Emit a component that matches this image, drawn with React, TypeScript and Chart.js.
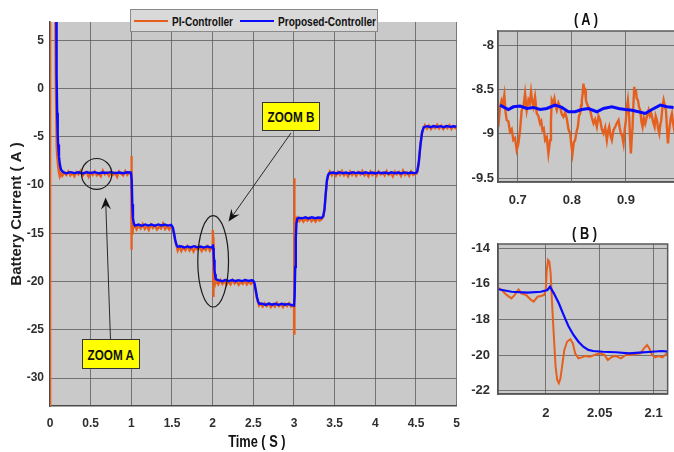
import React, { useEffect, useRef } from "react";
import { Chart, registerables } from "chart.js";
Chart.register(...registerables);

const SANS = "'Liberation Sans', Arial, sans-serif";
const ORANGE = "#e5601f";
const BLUE = "#0a0aff";
const PLOT_BG = "#c9c9c9";
const GRID = "rgba(85,85,85,0.75)";
const TICK_COLOR = "#2e2e2e";

// ---- tick labels ----
const mainTimeTicks = [0, 0.5, 1, 1.5, 2, 2.5, 3, 3.5, 4, 4.5, 5];
const mainCurrentTicks = [-30, -25, -20, -15, -10, -5, 0, 5];
const zoomATimeTicks = [0.7, 0.8, 0.9];
const zoomACurrentTicks = [-9.5, -9, -8.5, -8];
const zoomBTimeTicks = [2, 2.05, 2.1];
const zoomBCurrentTicks = [-22, -20, -18, -16, -14];

// ---- main chart series: [time (s), battery current (A)] ----
const mainPi: [number, number][] = [
  [0, -33], [0.002, 7.5], [0.066, 7.5], [0.07, 1.5], [0.075, -2], [0.08, -4.6], [0.085, -6.1], [0.09, -7.1], [0.1, -8.1], [0.11, -8.7], [0.12, -9.1], [0.135, -8.8],
  [0.15, -9.05], [0.175, -8.7], [0.2, -8.95], [0.225, -8.6], [0.25, -9.0], [0.275, -8.75], [0.3, -9.1], [0.325, -8.65], [0.35, -8.9], [0.375, -8.55], [0.4, -9.05], [0.425, -8.8], [0.45, -8.65], [0.475, -9.15], [0.5, -8.7], [0.525, -8.95], [0.55, -8.6], [0.575, -9.0], [0.6, -8.8], [0.625, -9.1], [0.65, -8.5], [0.675, -8.9], [0.7, -8.7], [0.725, -9.05], [0.75, -8.65], [0.775, -8.95], [0.8, -8.75], [0.825, -9.15], [0.85, -8.6], [0.875, -8.85], [0.9, -9.0], [0.925, -8.55], [0.95, -8.95], [0.975, -8.7], [0.998, -8.9],
  [1.0, -7.0], [1.002, -9.5], [1.004, -16.7], [1.007, -13.8], [1.011, -15.0], [1.016, -14.1], [1.02, -14.6],
  [1.04, -14.1], [1.065, -14.6], [1.09, -14.2], [1.115, -14.5], [1.14, -14.05], [1.165, -14.55], [1.19, -14.25], [1.215, -14.65], [1.24, -14.1], [1.265, -14.45], [1.29, -14.2], [1.315, -14.6], [1.34, -14.3], [1.365, -14.5], [1.39, -14.0], [1.415, -14.55], [1.44, -14.25], [1.465, -14.6], [1.49, -14.2],
  [1.51, -14.6], [1.525, -15.1], [1.54, -15.8], [1.555, -16.3], [1.57, -16.8],
  [1.59, -16.4], [1.615, -16.85], [1.64, -16.45], [1.665, -16.75], [1.69, -16.35], [1.715, -16.8], [1.74, -16.5], [1.765, -16.9], [1.79, -16.4], [1.815, -16.7], [1.84, -16.45], [1.865, -16.85], [1.89, -16.5], [1.915, -16.75], [1.94, -16.35], [1.965, -16.8], [1.985, -16.5],
  [1.998, -16.6], [2.0, -16.3], [2.0009, -15.2], [2.0021, -14.66], [2.0033, -14.75], [2.0045, -15.4], [2.006, -17.3], [2.0075, -19.0], [2.0091, -20.65], [2.0106, -21.4], [2.0121, -21.6], [2.0136, -21.3], [2.0151, -20.65], [2.0172, -19.7], [2.0197, -19.25], [2.0227, -19.1], [2.0251, -19.35], [2.0272, -19.9], [2.0303, -20.2],
  [2.045, -20.0], [2.07, -20.3], [2.095, -19.85], [2.12, -20.25], [2.145, -19.9], [2.17, -20.35], [2.195, -20.0], [2.22, -20.3], [2.245, -19.85], [2.27, -20.2], [2.295, -19.95], [2.32, -20.35], [2.345, -20.05], [2.37, -20.25], [2.395, -19.9], [2.42, -20.3], [2.445, -20.0], [2.47, -20.25], [2.49, -20.0],
  [2.51, -20.3], [2.525, -20.8], [2.54, -21.6], [2.555, -22.1], [2.57, -22.5],
  [2.59, -22.3], [2.615, -22.6], [2.64, -22.25], [2.665, -22.55], [2.69, -22.3], [2.715, -22.65], [2.74, -22.35], [2.765, -22.6], [2.79, -22.2], [2.815, -22.55], [2.84, -22.35], [2.865, -22.65], [2.89, -22.3], [2.915, -22.55], [2.94, -22.25], [2.965, -22.6], [2.99, -22.4],
  [3.0, -22.6], [3.001, -25.4], [3.003, -16], [3.004, -9.3], [3.006, -12.5], [3.009, -14.6], [3.014, -13.3], [3.02, -13.8],
  [3.04, -13.4], [3.065, -13.75], [3.09, -13.45], [3.115, -13.8], [3.14, -13.5], [3.165, -13.7], [3.19, -13.4], [3.215, -13.75], [3.24, -13.5], [3.265, -13.8], [3.29, -13.45], [3.315, -13.7], [3.34, -13.55],
  [3.36, -13.3], [3.375, -12.6], [3.39, -11.0], [3.405, -9.6], [3.42, -9.0],
  [3.44, -8.6], [3.465, -9.0], [3.49, -8.7], [3.515, -9.05], [3.54, -8.65], [3.565, -8.95], [3.59, -8.55], [3.615, -9.0], [3.64, -8.75], [3.665, -9.1], [3.69, -8.6], [3.715, -8.95], [3.74, -8.7], [3.765, -9.05], [3.79, -8.65], [3.815, -8.9], [3.84, -8.55], [3.865, -9.0], [3.89, -8.75], [3.915, -9.1], [3.94, -8.6], [3.965, -8.95], [3.99, -8.7], [4.015, -9.05], [4.04, -8.6], [4.065, -8.9], [4.09, -8.7], [4.115, -9.0], [4.14, -8.55], [4.165, -8.95], [4.19, -8.75], [4.215, -9.1], [4.24, -8.6], [4.265, -8.9], [4.29, -8.65], [4.315, -9.05], [4.34, -8.5], [4.365, -8.95], [4.39, -8.7], [4.415, -9.05], [4.44, -8.6], [4.465, -8.95], [4.49, -8.8],
  [4.51, -8.8], [4.53, -8.0], [4.55, -6.2], [4.57, -4.8], [4.59, -4.2],
  [4.61, -3.8], [4.635, -4.15], [4.66, -3.85], [4.685, -4.2], [4.71, -3.9], [4.735, -4.1], [4.76, -3.75], [4.785, -4.15], [4.81, -3.85], [4.835, -4.2], [4.86, -3.9], [4.885, -4.1], [4.91, -3.8], [4.935, -4.2], [4.96, -3.9], [4.985, -4.1], [5.0, -3.95],
];

const mainProposed: [number, number][] = [
  [0.078, 7.5], [0.081, 1.5], [0.088, -2.5], [0.095, -4.8], [0.1, -5.8], [0.11, -7.0], [0.12, -7.8], [0.135, -8.4], [0.16, -8.65],
  [0.2, -8.78], [0.25, -8.66], [0.3, -8.76], [0.35, -8.68], [0.4, -8.8], [0.45, -8.67], [0.5, -8.75], [0.55, -8.66], [0.6, -8.78], [0.65, -8.7], [0.7, -8.74], [0.75, -8.66], [0.8, -8.76], [0.85, -8.7], [0.9, -8.78], [0.95, -8.68], [0.995, -8.72],
  [1.005, -9.5], [1.012, -12.0], [1.02, -13.4], [1.03, -14.0], [1.045, -14.2],
  [1.09, -14.1], [1.13, -14.22], [1.17, -14.08], [1.21, -14.2], [1.25, -14.1], [1.29, -14.22], [1.33, -14.08], [1.37, -14.18], [1.41, -14.1], [1.45, -14.2], [1.49, -14.12],
  [1.51, -14.4], [1.525, -15.0], [1.54, -15.7], [1.555, -16.2], [1.57, -16.4],
  [1.61, -16.35], [1.65, -16.48], [1.69, -16.36], [1.73, -16.46], [1.77, -16.34], [1.81, -16.45], [1.85, -16.38], [1.89, -16.48], [1.93, -16.36], [1.97, -16.46], [1.995, -16.44],
  [2.0015, -16.34], [2.0039, -16.16], [2.0075, -16.53], [2.0121, -17.09], [2.0166, -17.75], [2.0212, -18.4], [2.0257, -18.87], [2.0303, -19.25], [2.0348, -19.53], [2.0394, -19.71], [2.0439, -19.77], [2.053, -19.81],
  [2.08, -19.88], [2.12, -19.96], [2.16, -19.85], [2.2, -19.95], [2.24, -19.84], [2.28, -19.96], [2.32, -19.86], [2.36, -19.95], [2.4, -19.85], [2.44, -19.94], [2.48, -19.87], [2.5, -19.92],
  [2.515, -20.2], [2.53, -20.9], [2.545, -21.6], [2.56, -22.1], [2.575, -22.3],
  [2.61, -22.3], [2.65, -22.42], [2.69, -22.28], [2.73, -22.4], [2.77, -22.3], [2.81, -22.42], [2.85, -22.3], [2.89, -22.4], [2.93, -22.32], [2.97, -22.45], [3.0, -22.5],
  [3.008, -21.5], [3.015, -18.5], [3.022, -15.5], [3.03, -14.0], [3.04, -13.5], [3.06, -13.4],
  [3.1, -13.45], [3.14, -13.35], [3.18, -13.46], [3.22, -13.34], [3.26, -13.44], [3.3, -13.36], [3.34, -13.42],
  [3.36, -13.2], [3.375, -12.5], [3.39, -10.9], [3.405, -9.5], [3.42, -8.95], [3.44, -8.75],
  [3.48, -8.7], [3.52, -8.8], [3.56, -8.68], [3.6, -8.78], [3.64, -8.7], [3.68, -8.8], [3.72, -8.68], [3.76, -8.76], [3.8, -8.7], [3.84, -8.8], [3.88, -8.68], [3.92, -8.78], [3.96, -8.7], [4.0, -8.8], [4.04, -8.69], [4.08, -8.77], [4.12, -8.7], [4.16, -8.8], [4.2, -8.68], [4.24, -8.78], [4.28, -8.7], [4.32, -8.8], [4.36, -8.69], [4.4, -8.77], [4.44, -8.7], [4.48, -8.76], [4.5, -8.74],
  [4.515, -8.6], [4.535, -7.6], [4.555, -5.8], [4.575, -4.5], [4.595, -4.0],
  [4.64, -3.9], [4.68, -4.0], [4.72, -3.88], [4.76, -3.98], [4.8, -3.9], [4.84, -4.0], [4.88, -3.88], [4.92, -3.97], [4.96, -3.9], [5.0, -3.95],
];

// ---- zoom (A) series ----
const zoomAPi: [number, number][] = [
  [0.6641, -8.922], [0.6672, -8.7], [0.6703, -8.621], [0.6728, -8.66], [0.6752, -8.564], [0.6774, -8.75], [0.6796, -8.847], [0.6827, -8.86], [0.6857, -8.978], [0.6888, -8.95], [0.6919, -9.072], [0.695, -9.05], [0.6981, -9.185], [0.7012, -9.11], [0.7043, -8.96], [0.7073, -8.734], [0.7104, -8.7], [0.7135, -8.545], [0.7166, -8.734], [0.7197, -8.621], [0.7222, -8.66], [0.7246, -8.527], [0.7268, -8.64], [0.7289, -8.696], [0.732, -8.583], [0.7351, -8.771], [0.7382, -8.8], [0.7413, -8.884], [0.7435, -8.86], [0.7456, -8.959], [0.7481, -8.94], [0.7506, -9.072], [0.7537, -9.04], [0.7567, -9.223], [0.7598, -9.072], [0.7614, -8.85], [0.7629, -8.621], [0.7654, -8.66], [0.7678, -8.602], [0.77, -8.69], [0.7722, -8.734], [0.7752, -8.65], [0.7783, -8.696], [0.7814, -8.78], [0.7845, -8.809], [0.7876, -8.76], [0.7907, -8.828], [0.7938, -8.95], [0.7969, -8.997], [0.799, -9.12], [0.8012, -9.223], [0.8036, -9.1], [0.8061, -9.072], [0.8086, -8.98], [0.8111, -8.922], [0.8132, -8.8], [0.8154, -8.771], [0.817, -8.68], [0.8185, -8.621], [0.82, -8.55], [0.8215, -8.433], [0.823, -8.52], [0.8246, -8.508], [0.826, -8.62], [0.8277, -8.658], [0.8308, -8.7], [0.8339, -8.734], [0.837, -8.82], [0.8401, -8.884], [0.843, -8.84], [0.8462, -8.922], [0.8493, -8.8], [0.8524, -8.847], [0.8555, -8.95], [0.8586, -8.997], [0.8617, -8.93], [0.8648, -9.072], [0.867, -8.97], [0.8691, -8.922], [0.8715, -9.02], [0.874, -9.072], [0.877, -8.96], [0.8802, -8.922], [0.8833, -8.88], [0.8864, -8.847], [0.8885, -8.93], [0.8907, -8.997], [0.893, -9.02], [0.8956, -9.11], [0.8978, -8.95], [0.9, -8.847], [0.9018, -8.7], [0.9036, -8.621], [0.9061, -8.809], [0.9077, -9.05], [0.9092, -9.223], [0.9108, -9.05], [0.9123, -8.922], [0.914, -8.65], [0.9154, -8.47], [0.917, -8.55], [0.9185, -8.508], [0.92, -8.6], [0.9222, -8.621], [0.9243, -8.7], [0.9265, -8.734], [0.9286, -8.86], [0.9308, -8.922], [0.933, -8.82], [0.9357, -8.884], [0.939, -8.8], [0.9419, -8.734], [0.9444, -8.8], [0.9469, -8.771], [0.95, -8.86], [0.953, -8.922], [0.955, -8.8], [0.9574, -8.847], [0.9595, -8.94], [0.9617, -8.997], [0.9635, -8.9], [0.9654, -8.847], [0.9675, -8.7], [0.9697, -8.621], [0.972, -8.69], [0.974, -8.734], [0.976, -8.95], [0.9777, -9.11], [0.9792, -9.0], [0.9808, -8.922], [0.983, -8.82], [0.9851, -8.771], [0.9872, -8.88], [0.9894, -8.959], [0.995, -8.9],
];
const zoomAProposed: [number, number][] = [
  [0.6672, -8.677], [0.6826, -8.726], [0.6919, -8.696], [0.7043, -8.688], [0.7167, -8.715], [0.7289, -8.703], [0.7413, -8.726], [0.7537, -8.715], [0.769, -8.677], [0.7815, -8.703], [0.7937, -8.752], [0.8061, -8.752], [0.8185, -8.726], [0.8307, -8.715], [0.8463, -8.752], [0.8585, -8.715], [0.8741, -8.696], [0.8863, -8.715], [0.8987, -8.726], [0.9111, -8.734], [0.9233, -8.752], [0.9357, -8.771], [0.9481, -8.726], [0.9635, -8.677], [0.9759, -8.696], [0.9881, -8.703],
];

// ---- zoom (B) series ----
const zoomBPi: [number, number][] = [
  [1.9545, -16.16], [1.9591, -16.34], [1.9636, -16.62], [1.9682, -16.81], [1.9712, -16.62], [1.9748, -16.31], [1.9772, -16.53], [1.9818, -16.62], [1.9863, -16.9], [1.9888, -17.0], [1.9924, -16.72], [1.9954, -16.68], [1.9985, -16.62], [2.0, -16.34], [2.0009, -15.22], [2.0021, -14.66], [2.0033, -14.75], [2.0045, -15.41], [2.006, -17.28], [2.0075, -18.96], [2.0091, -20.65], [2.0106, -21.4], [2.0121, -21.58], [2.0136, -21.31], [2.0151, -20.65], [2.0172, -19.71], [2.0197, -19.25], [2.0227, -19.11], [2.0251, -19.34], [2.0272, -19.9], [2.0303, -20.18], [2.0333, -20.13], [2.0363, -20.05], [2.0409, -20.09], [2.0454, -19.99], [2.05, -19.9], [2.0545, -19.99], [2.0575, -20.28], [2.0615, -20.09], [2.0651, -20.05], [2.0697, -20.18], [2.0742, -19.99], [2.0788, -19.99], [2.0833, -19.94], [2.0878, -19.9], [2.0918, -19.56], [2.0939, -19.43], [2.096, -19.62], [2.0985, -19.99], [2.1015, -20.13], [2.1045, -20.05], [2.1082, -20.13], [2.1106, -19.99], [2.1136, -19.86],
];
const zoomBProposed: [number, number][] = [
  [1.956, -16.3], [1.9682, -16.44], [1.9833, -16.49], [1.9954, -16.44], [2.0015, -16.34], [2.0039, -16.16], [2.0075, -16.53], [2.0121, -17.09], [2.0166, -17.75], [2.0212, -18.4], [2.0257, -18.87], [2.0303, -19.25], [2.0348, -19.53], [2.0394, -19.71], [2.0439, -19.77], [2.053, -19.81], [2.0651, -19.84], [2.0772, -19.9], [2.0863, -19.86], [2.0985, -19.81], [2.1075, -19.77], [2.1136, -19.81],
];

// ---- annotation anchors on the main chart (data units) ----
const ellipseA = { t0: 0.387, t1: 0.76, i0: -10.45, i1: -7.25 };
const ellipseB = { t0: 1.817, t1: 2.195, i0: -22.64, i1: -13.16 };
const arrowA = { from: [0.744, -26.07], to: [0.683, -11.28] };
const arrowB = { from: [2.963, -4.61], to: [2.195, -13.78] };

const fmt = (v: number) => String(Math.round(v * 1000) / 1000);
const pts = (arr: [number, number][]) => arr.map(([x, y]) => ({ x, y }));

type Box = { W: number; H: number; left: number; top: number; right: number; bottom: number };

const bgPlugin = {
  id: "plotBg",
  beforeDraw(chart: any) {
    const { ctx, chartArea: a } = chart;
    ctx.save();
    ctx.fillStyle = PLOT_BG;
    ctx.fillRect(a.left, a.top, a.right - a.left, a.bottom - a.top);
    ctx.restore();
  },
};

const framePlugin = {
  id: "frame",
  afterDraw(chart: any) {
    const { ctx, chartArea: a } = chart;
    ctx.save();
    ctx.strokeStyle = "#5a5a5a";
    ctx.lineWidth = 1.5;
    ctx.strokeRect(a.left, a.top, a.right - a.left, a.bottom - a.top);
    ctx.restore();
  },
};

function drawArrow(ctx: CanvasRenderingContext2D, x0: number, y0: number, x1: number, y1: number) {
  const ang = Math.atan2(y1 - y0, x1 - x0);
  const L = 12, W = 5;
  const c = Math.cos(ang), s = Math.sin(ang);
  ctx.beginPath();
  ctx.moveTo(x0, y0);
  ctx.lineTo(x1 - c * L * 0.6, y1 - s * L * 0.6);
  ctx.stroke();
  ctx.beginPath();
  ctx.moveTo(x1, y1);
  ctx.lineTo(x1 - c * L + s * W, y1 - s * L - c * W);
  ctx.lineTo(x1 - c * L * 0.65, y1 - s * L * 0.65);
  ctx.lineTo(x1 - c * L - s * W, y1 - s * L + c * W);
  ctx.closePath();
  ctx.fill();
}

const annotationPlugin = {
  id: "zoomMarks",
  afterDatasetsDraw(chart: any) {
    const { ctx } = chart;
    const xs = chart.scales.x, ys = chart.scales.y;
    ctx.save();
    ctx.strokeStyle = "#1a1a1a";
    ctx.lineWidth = 1.2;
    for (const e of [ellipseA, ellipseB]) {
      const x0 = xs.getPixelForValue(e.t0), x1 = xs.getPixelForValue(e.t1);
      const y0 = ys.getPixelForValue(e.i1), y1 = ys.getPixelForValue(e.i0);
      ctx.beginPath();
      ctx.ellipse((x0 + x1) / 2, (y0 + y1) / 2, (x1 - x0) / 2, (y1 - y0) / 2, 0, 0, Math.PI * 2);
      ctx.stroke();
    }
    ctx.strokeStyle = "#2a2a2a";
    ctx.fillStyle = "#111";
    ctx.lineWidth = 1;
    for (const a of [arrowA, arrowB]) {
      drawArrow(
        ctx,
        xs.getPixelForValue(a.from[0]), ys.getPixelForValue(a.from[1]),
        xs.getPixelForValue(a.to[0]), ys.getPixelForValue(a.to[1])
      );
    }
    ctx.restore();
  },
};

function buildOptions(box: Box, xr: [number, number], yr: [number, number], xTicks: number[], yTicks: number[], tickSize: number, yPad: number, xPad: number, titles: boolean) {
  const tickFont = { family: SANS, size: tickSize, weight: "bold" as const };
  return {
    responsive: false,
    animation: false as const,
    events: [] as any[],
    layout: { padding: { left: 0, top: box.top, right: box.W - box.right, bottom: 0 } },
    plugins: { legend: { display: false }, tooltip: { enabled: false }, title: { display: false } },
    elements: { point: { radius: 0 }, line: { tension: 0 } },
    scales: {
      x: {
        type: "linear" as const,
        min: xr[0],
        max: xr[1],
        afterFit: (s: any) => { s.height = box.H - box.bottom; },
        afterBuildTicks: (s: any) => { s.ticks = xTicks.map((v) => ({ value: v })); },
        ticks: { callback: (v: any) => fmt(Number(v)), font: tickFont, color: TICK_COLOR, padding: xPad, maxRotation: 0, autoSkip: false },
        grid: { color: GRID, lineWidth: 1, drawTicks: false },
        border: { display: true, color: "#4a4a4a", width: 1.5 },
        title: { display: false },
      },
      y: {
        type: "linear" as const,
        min: yr[0],
        max: yr[1],
        afterFit: (s: any) => { s.width = box.left; },
        afterBuildTicks: (s: any) => { s.ticks = yTicks.map((v) => ({ value: v })); },
        ticks: { callback: (v: any) => fmt(Number(v)), font: tickFont, color: TICK_COLOR, padding: yPad, autoSkip: false },
        grid: { color: GRID, lineWidth: 1, drawTicks: false },
        border: { display: true, color: "#4a4a4a", width: 1.5 },
        title: titles
          ? { display: true, text: "Battery Current ( A )", font: { family: SANS, size: 15, weight: "bold" as const }, color: "#1e1e1e", padding: { top: 8, bottom: 0 } }
          : { display: false },
      },
    },
  };
}

function ChartCanvas(props: {
  box: Box; x: number; y: number;
  pi: [number, number][]; prop: [number, number][];
  xr: [number, number]; yr: [number, number];
  xTicks: number[]; yTicks: number[];
  tickSize: number; yPad: number; xPad: number;
  piWidth: number; propWidth: number;
  main?: boolean;
}) {
  const ref = useRef<HTMLCanvasElement>(null);
  useEffect(() => {
    if (!ref.current) return;
    const p = props;
    const plugins: any[] = [bgPlugin];
    if (p.main) plugins.push(annotationPlugin); else plugins.push(framePlugin);
    const chart = new Chart(ref.current, {
      type: "scatter",
      data: {
        datasets: [
          { label: "PI-Controller", data: pts(p.pi), showLine: true, borderColor: ORANGE, backgroundColor: ORANGE, borderWidth: p.piWidth, pointRadius: 0, order: 1 },
          { label: "Proposed-Controller", data: pts(p.prop), showLine: true, borderColor: BLUE, backgroundColor: BLUE, borderWidth: p.propWidth, pointRadius: 0, order: 0 },
        ],
      },
      options: buildOptions(p.box, p.xr, p.yr, p.xTicks, p.yTicks, p.tickSize, p.yPad, p.xPad, !!p.main) as any,
      plugins,
    });
    return () => chart.destroy();
  }, []);
  return (
    <canvas
      ref={ref}
      width={props.box.W}
      height={props.box.H}
      style={{ position: "absolute", left: props.x, top: props.y, width: props.box.W, height: props.box.H }}
    />
  );
}

const lbl: React.CSSProperties = { fontFamily: SANS, fontWeight: "bold", color: "#111", whiteSpace: "nowrap" };

function Narrow(props: { children: React.ReactNode; size: number; origin?: string; sx?: number }) {
  return (
    <span style={{ ...lbl, display: "inline-block", fontSize: props.size, transform: `scaleX(${props.sx || 0.84})`, transformOrigin: props.origin || "center" }}>
      {props.children}
    </span>
  );
}

export default function App() {
  return (
    <div style={{ position: "absolute", left: 0, top: 0, width: 674, height: 452, overflow: "hidden", background: "#fff" }}>
      <ChartCanvas
        box={{ W: 470, H: 452, left: 50, top: 22, right: 460, bottom: 406 }}
        x={0} y={0}
        pi={mainPi} prop={mainProposed}
        xr={[0, 5]} yr={[-32.9, 6.9]}
        xTicks={mainTimeTicks} yTicks={mainCurrentTicks}
        tickSize={12} yPad={6} xPad={10}
        piWidth={2.3} propWidth={2.4}
        main
      />
      <ChartCanvas
        box={{ W: 225, H: 215, left: 43, top: 31, right: 225, bottom: 182 }}
        x={455} y={0}
        pi={zoomAPi} prop={zoomAProposed}
        xr={[0.6635, 1.0]} yr={[-9.545, -7.84]}
        xTicks={zoomATimeTicks} yTicks={zoomACurrentTicks}
        tickSize={13} yPad={4} xPad={11}
        piWidth={2.4} propWidth={3}
      />
      <ChartCanvas
        box={{ W: 220, H: 210, left: 43, top: 19, right: 216, bottom: 169 }}
        x={455} y={225}
        pi={zoomBPi} prop={zoomBProposed}
        xr={[1.9557, 2.113]} yr={[-22.185, -13.758]}
        xTicks={zoomBTimeTicks} yTicks={zoomBCurrentTicks}
        tickSize={13} yPad={8} xPad={12}
        piWidth={2} propWidth={2.2}
      />

      {/* x-axis title */}
      <div style={{ position: "absolute", left: 207, top: 431, width: 100, height: 22, textAlign: "center", lineHeight: "22px" }}>
        <Narrow size={16} sx={0.8}>Time ( S )</Narrow>
      </div>

      {/* legend */}
      <div style={{ position: "absolute", left: 130, top: 9, width: 248, height: 23, boxSizing: "border-box", background: "#d9d9d9", border: "1px solid #8a8a8a" }}>
        <div style={{ position: "absolute", left: 3, top: 9.5, width: 34, height: 2.5, background: ORANGE }} />
        <div style={{ position: "absolute", left: 41, top: 2, lineHeight: "17px" }}>
          <Narrow size={12} origin="left center">PI-Controller</Narrow>
        </div>
        <div style={{ position: "absolute", left: 109, top: 9.5, width: 34, height: 2.5, background: BLUE }} />
        <div style={{ position: "absolute", left: 147, top: 2, lineHeight: "17px" }}>
          <Narrow size={12} origin="left center">Proposed-Controller</Narrow>
        </div>
      </div>

      {/* zoom labels */}
      <div style={{ position: "absolute", left: 82, top: 339, width: 58, height: 30, boxSizing: "border-box", background: "#ffff00", border: "1.5px solid #333", display: "flex", alignItems: "center", justifyContent: "center" }}>
        <Narrow size={15} sx={0.78}>ZOOM A</Narrow>
      </div>
      <div style={{ position: "absolute", left: 262, top: 102, width: 58, height: 29, boxSizing: "border-box", background: "#ffff00", border: "1.5px solid #333", display: "flex", alignItems: "center", justifyContent: "center" }}>
        <Narrow size={15} sx={0.78}>ZOOM B</Narrow>
      </div>

      {/* inset titles */}
      <div style={{ position: "absolute", left: 556, top: 11, width: 60, textAlign: "center", lineHeight: "18px" }}>
        <Narrow size={16} sx={0.8}>( A )</Narrow>
      </div>
      <div style={{ position: "absolute", left: 555, top: 225, width: 60, textAlign: "center", lineHeight: "18px" }}>
        <Narrow size={16} sx={0.8}>( B )</Narrow>
      </div>
    </div>
  );
}
